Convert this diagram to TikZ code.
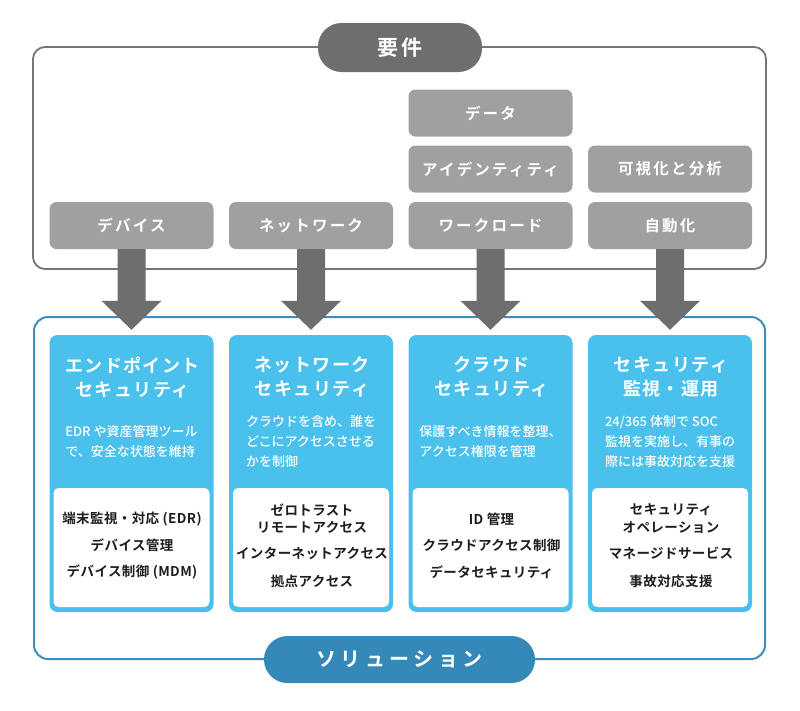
\documentclass[tikz,border=0pt]{standalone}
\usepackage{fontspec}
\newfontfamily\fjp{Noto Sans CJK JP Medium}
\newfontfamily\ftitle[LetterSpace=8]{Noto Sans CJK JP Bold}
\newfontfamily\fgroup[LetterSpace=14]{Noto Sans CJK JP Bold}
\newfontfamily\fhead[LetterSpace=12]{Noto Sans CJK JP Bold}
\newfontfamily\fsol[LetterSpace=22]{Noto Sans CJK JP Bold}
\newfontfamily\fitem[LetterSpace=3]{Noto Sans CJK JP Bold}
\usetikzlibrary{calc}
\definecolor{dgray}{HTML}{6F6E6F}
\definecolor{mgray}{HTML}{A0A0A0}
\definecolor{lblue}{HTML}{4AC0EC}
\definecolor{bline}{HTML}{3D8DC1}
\definecolor{dblue}{HTML}{3489B9}
\definecolor{ink}{HTML}{1E1E1E}
\begin{document}
\begin{tikzpicture}[x=1pt,y=-1pt,
  frame/.style={rounded corners=12pt, line width=1.8pt},
  grp/.style={fill=mgray, rounded corners=7pt, minimum width=164pt, minimum height=47pt, inner sep=0pt, text=white, font=\fgroup\fontsize{15.5}{18}\selectfont},
  pill/.style={rounded corners=23.5pt, inner sep=0pt, text=white},
  card/.style={fill=lblue, rounded corners=8pt, minimum width=164pt, minimum height=277pt, inner sep=0pt},
  inbox/.style={fill=white, rounded corners=5pt, minimum width=156pt, minimum height=119pt, inner sep=0pt},
  ttl/.style={text=white, align=center, font=\ftitle\fontsize{18}{24}\selectfont, inner sep=0pt},
  dsc/.style={text=white, align=left, font=\fjp\fontsize{13}{20}\selectfont, inner sep=0pt},
  itm/.style={text=ink, align=center, font=\fitem\fontsize{13.5}{17.5}\selectfont, inner sep=0pt},
  arr/.style={fill=dgray},
]
\useasboundingbox[fill=white] (0,0) rectangle (800,710);

% requirement frame
\draw[frame, draw=dgray!95] (33,47) rectangle (766,269);
\node[pill, fill=dgray, minimum width=164pt, minimum height=49pt, font=\fhead\fontsize{21}{24}\selectfont] (req) at (400,47.5) {要件};

% requirement boxes
\node[grp] (g1) at (131.5,225.5) {デバイス};
\node[grp] (g2) at (311,225.5) {ネットワーク};
\node[grp] (g3) at (490.5,225.5) {ワークロード};
\node[grp] (g3b) at (490.5,169) {アイデンティティ};
\node[grp] (g3c) at (490.5,113) {データ};
\node[grp] (g4) at (670,225.5) {自動化};
\node[grp] (g4b) at (670,169) {可視化と分析};

% solution frame
\draw[frame, rounded corners=14pt, line width=2pt, draw=bline] (34,317) rectangle (765,659);
\node[pill, fill=dblue, minimum width=271pt, minimum height=47pt, font=\fsol\fontsize{20}{24}\selectfont] (sol) at (399.5,659.5) {ソリューション};

% cards
\node[card] (c1) at (131.5,473.5) {};
\node[card] (c2) at (311,473.5) {};
\node[card] (c3) at (490.5,473.5) {};
\node[card] (c4) at (670,473.5) {};
\node[inbox] (w1) at (131.5,547.5) {};
\node[inbox] (w2) at (311,547.5) {};
\node[inbox] (w3) at (490.5,547.5) {};
\node[inbox] (w4) at (670,547.5) {};

% titles
\node[ttl] (t1) at (132.5,377) {エンドポイント\\セキュリティ};
\node[ttl] (t2) at (312,377) {ネットワーク\\セキュリティ};
\node[ttl] (t3) at (491.5,377) {クラウド\\セキュリティ};
\node[ttl] (t4) at (671,377) {セキュリティ\\監視・運用};

% descriptions
\node[dsc] (d1) at (131.5,442) {EDR や資産管理ツール\\で、安全な状態を維持};
\node[dsc] (d2) at (311,442) {クラウドを含め、誰を\\どこにアクセスさせる\\かを制御};
\node[dsc] (d3) at (490.5,442) {保護すべき情報を整理、\\アクセス権限を管理};
\node[dsc] (d4) at (670,442) {24/365 体制で SOC\\監視を実施し、有事の\\際には事故対応を支援};

% items
\node[itm] (i11) at (132,519) {端末監視・対応 (EDR)};
\node[itm] (i12) at (132,545.5) {デバイス管理};
\node[itm] (i13) at (132,572) {デバイス制御 (MDM)};
\node[itm] (i21) at (312,518.5) {ゼロトラスト\\リモートアクセス};
\node[itm] (i22) at (312,553) {インターネットアクセス};
\node[itm] (i23) at (312,581) {拠点アクセス};
\node[itm] (i31) at (491.5,519) {ID 管理};
\node[itm] (i32) at (491.5,545.5) {クラウドアクセス制御};
\node[itm] (i33) at (491.5,572) {データセキュリティ};
\node[itm] (i41) at (671,518.5) {セキュリティ\\オペレーション};
\node[itm] (i42) at (671,553) {マネージドサービス};
\node[itm] (i43) at (671,581) {事故対応支援};

% arrows
\foreach \g/\c in {g1/c1,g2/c2,g3/c3,g4/c4}{
  \fill[arr] let \p1=(\g.south), \p2=(\c.north) in
    (\x1-14pt,\y1) -- (\x1+14pt,\y1) -- (\x1+14pt,\y2+34pt) -- (\x1+30pt,\y2+34pt)
    -- (\x1,\y2+5pt) -- (\x1-30pt,\y2+34pt) -- (\x1-14pt,\y2+34pt) -- cycle;
}
\end{tikzpicture}
\end{document}
